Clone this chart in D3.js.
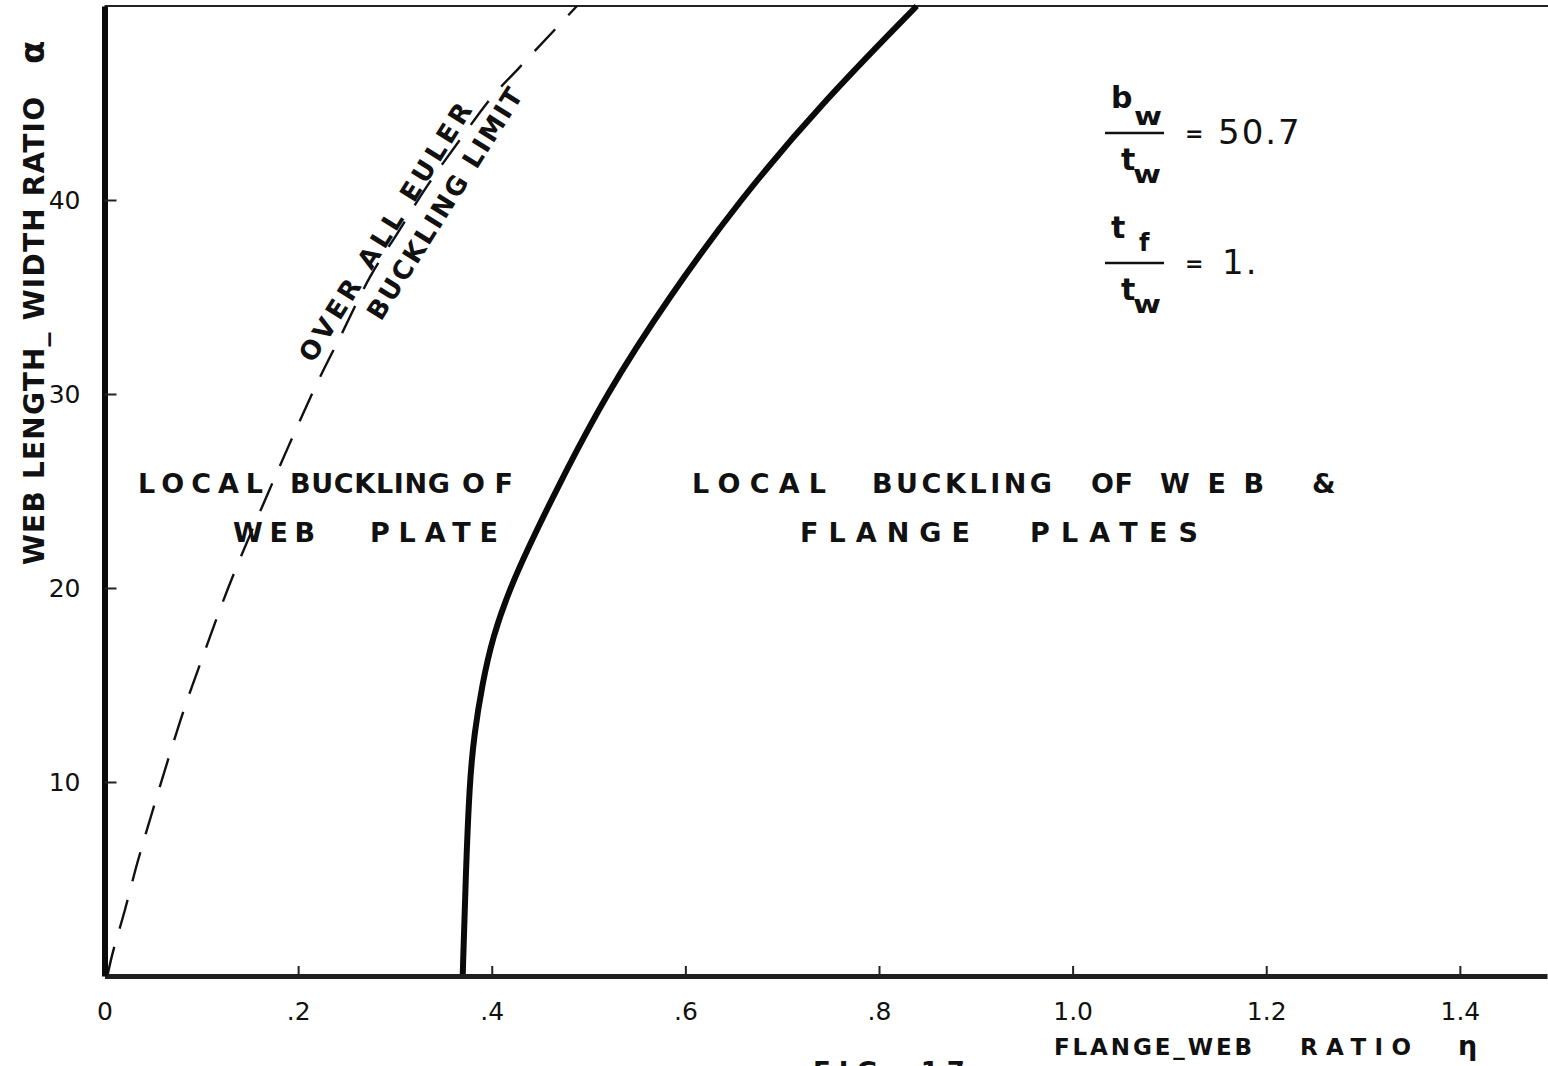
<!DOCTYPE html>
<meta charset="utf-8">
<style>
    body {
        margin: 0;
        background: #fff;
        font-family: "DejaVu Sans", "Liberation Sans", sans-serif;
    }
    .tick text { font-size: 25px; fill: #111; }
    .lbl { font-weight: bold; fill: #111; }
</style>
<body>
<script src="https://cdn.jsdelivr.net/npm/d3@7"></script>
<script>

// tick values and labels as lettered on the sheet
var etaTicks = [0, 0.2, 0.4, 0.6, 0.8, 1.0, 1.2, 1.4];
var etaTickLabels = ["0", ".2", ".4", ".6", ".8", "1.0", "1.2", "1.4"];
var alphaTicks = [10, 20, 30, 40];
var alphaTickLabels = ["10", "20", "30", "40"];

// solid boundary: web only / web & flange local buckling
var boundaryAlpha = [0, 5, 10, 12.5, 15, 17.5, 20, 22, 25, 30, 35, 40, 45, 50];
var boundaryEta = [0.370, 0.373, 0.377, 0.382, 0.390, 0.401, 0.419, 0.437, 0.466, 0.518, 0.583, 0.656, 0.741, 0.839];

// dashed: over all euler buckling limit
var eulerAlpha = [0, 1.1, 3.3, 5.9, 8.3, 11.3, 13.9, 16.5, 18.9, 21.1, 27.3, 30.6, 33, 36.1, 38.4, 40.7, 43.3, 45.3, 46.8, 48.7, 50];
var eulerEta = [0.003, 0.008, 0.0205, 0.0343, 0.0484, 0.0666, 0.0832, 0.1018, 0.1193, 0.1366, 0.190, 0.220, 0.244, 0.275, 0.304, 0.333, 0.370, 0.400, 0.428, 0.4636, 0.488];

var width = 1548, height = 1066;

var svg = d3.select("body").append("svg")
    .attr("width", width)
    .attr("height", height);

var x = d3.scaleLinear().domain([0, 1.49]).range([104.5, 1547]);
var y = d3.scaleLinear().domain([0, 50]).range([976, 6]);

var line = d3.line()
    .x(function(d) { return x(d.eta); })
    .y(function(d) { return y(d.alpha); });

var boundary = boundaryAlpha.map(function(a, i) { return {alpha: a, eta: boundaryEta[i]}; });
var euler = eulerAlpha.map(function(a, i) { return {alpha: a, eta: eulerEta[i]}; });

// top border
svg.append("line")
    .attr("x1", x(0)).attr("x2", width)
    .attr("y1", y(50)).attr("y2", y(50))
    .attr("stroke", "#222").attr("stroke-width", 2);

svg.append("path")
    .datum(euler)
    .attr("d", line.curve(d3.curveCatmullRom.alpha(0.5)))
    .attr("fill", "none")
    .attr("stroke", "#111")
    .attr("stroke-width", 2.4)
    .attr("stroke-dasharray", "30,19");

svg.append("path")
    .datum(boundary)
    .attr("d", line.curve(d3.curveBasis))
    .attr("fill", "none")
    .attr("stroke", "#0a0a0a")
    .attr("stroke-width", 6);

var gx = svg.append("g")
    .attr("transform", "translate(0," + y(0) + ")")
    .call(d3.axisBottom(x)
        .tickValues(etaTicks)
        .tickFormat(function(d, i) { return etaTickLabels[i]; })
        .tickSize(-10).tickSizeOuter(0).tickPadding(26));
gx.select(".domain").attr("stroke", "#1e1e1e").attr("stroke-width", 5);
gx.selectAll(".tick line").attr("stroke", "#222").attr("stroke-width", 2);
gx.selectAll(".tick text").attr("font-family", "DejaVu Sans");

var gy = svg.append("g")
    .attr("transform", "translate(" + x(0) + ",0)")
    .call(d3.axisLeft(y)
        .tickValues(alphaTicks)
        .tickFormat(function(d, i) { return alphaTickLabels[i]; })
        .tickSize(-12).tickSizeOuter(0).tickPadding(24));
gy.select(".domain").attr("stroke", "#0a0a0a").attr("stroke-width", 6);
gy.selectAll(".tick line").attr("stroke", "#222").attr("stroke-width", 2);
gy.selectAll(".tick text").attr("font-family", "DejaVu Sans");

// lettering helper: word stretched between x0 and x1
function word(t, x0, x1, yb, size) {
  return svg.append("text")
      .attr("class", "lbl")
      .attr("x", x0).attr("y", yb)
      .attr("font-size", size)
      .attr("textLength", x1 - x0)
      .attr("lengthAdjust", "spacing")
      .text(t);
}

// region labels
word("LOCAL", 138, 263, 493, 27);
word("BUCKLING", 290, 450, 493, 27);
word("OF", 462, 513, 493, 27);
word("WEB", 233, 315, 542, 27);
word("PLATE", 370, 498, 542, 27);

word("LOCAL", 692, 826, 493, 27);
word("BUCKLING", 872, 1052, 493, 27);
word("OF", 1091, 1133, 493, 27);
word("WEB", 1160, 1264, 493, 27);
word("&", 1312, 1330, 493, 27);
word("FLANGE", 800, 970, 542, 27);
word("PLATES", 1030, 1198, 542, 27);

// axis titles
word("FLANGE_WEB", 1054, 1252, 1055, 23);
word("RATIO", 1300, 1411, 1055, 23);
svg.append("text").attr("class", "lbl")
    .attr("x", 1458).attr("y", 1055).attr("font-size", 27).text("η");

svg.append("text").attr("class", "lbl")
    .attr("transform", "translate(44,565) rotate(-90)")
    .attr("font-size", 28)
    .attr("textLength", 468).attr("lengthAdjust", "spacing")
    .text("WEB LENGTH_ WIDTH RATIO");
svg.append("text").attr("class", "lbl")
    .attr("transform", "translate(44,64) rotate(-90)")
    .attr("font-size", 34)
    .text("α");

// text along the euler limit line
svg.append("text").attr("class", "lbl")
    .attr("transform", "translate(313,364) rotate(-57.8)")
    .attr("font-size", 26)
    .attr("textLength", 300).attr("lengthAdjust", "spacing")
    .text("OVER ALL EULER");
svg.append("text").attr("class", "lbl")
    .attr("transform", "translate(381,322) rotate(-57.8)")
    .attr("font-size", 26)
    .attr("textLength", 268).attr("lengthAdjust", "spacing")
    .text("BUCKLING LIMIT");

// parameter ratios
function sub(t, xs, ys) {
  svg.append("text").attr("class", "lbl").attr("x", xs).attr("y", ys)
      .attr("font-size", 24).attr("textLength", 28).attr("lengthAdjust", "spacingAndGlyphs").text(t);
}
function frac(num, numSub, den, denSub, yBar, value, valueX) {
  svg.append("text").attr("class", "lbl").attr("x", 1111).attr("y", yBar - 25).attr("font-size", 30).text(num);
  if (numSub == "w") sub(numSub, 1134, yBar - 8);
  else svg.append("text").attr("class", "lbl").attr("x", 1139).attr("y", yBar - 12).attr("font-size", 24).text(numSub);
  svg.append("line").attr("x1", 1105).attr("x2", 1164).attr("y1", yBar).attr("y2", yBar)
      .attr("stroke", "#111").attr("stroke-width", 2.5);
  svg.append("text").attr("class", "lbl").attr("x", 1121).attr("y", yBar + 37).attr("font-size", 30).text(den);
  sub(denSub, 1133, yBar + 50);
  svg.append("text").attr("class", "lbl").attr("x", 1185).attr("y", yBar + 8).attr("font-size", 22).text("=");
  svg.append("text").attr("x", valueX).attr("y", yBar + 11).attr("font-size", 34)
      .attr("letter-spacing", 2).attr("fill", "#111").text(value);
}
frac("b", "w", "t", "w", 133, "50.7", 1218);
frac("t", "f", "t", "w", 263, "1.", 1222);

// figure caption, cut off by the page edge as on the sheet
svg.append("text").attr("class", "lbl")
    .attr("x", 813).attr("y", 1081).attr("font-size", 26)
    .attr("letter-spacing", 8).text("FIG. 17");

</script>
</body>
